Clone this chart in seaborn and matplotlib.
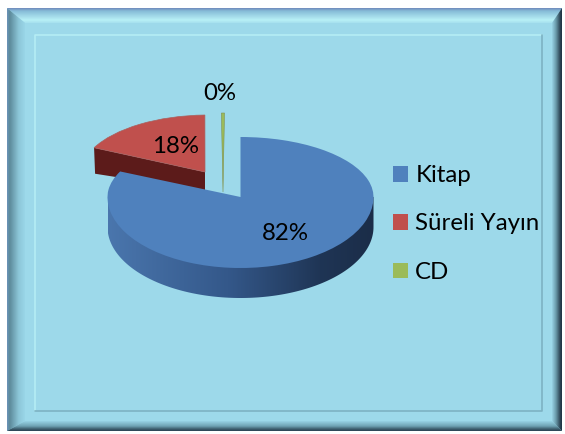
import numpy as np
import matplotlib
matplotlib.use('Agg')
import matplotlib.pyplot as plt
from matplotlib.colors import LinearSegmentedColormap
from matplotlib.patches import PathPatch, Polygon
from matplotlib.path import Path
import seaborn as sns

# Pie values and labels
labels = ['Kitap', 'Süreli Yayın', 'CD']
values = [82, 17.6, 0.4]
pie_colors = ['#4f81bd', '#c0504d', '#9bbb59']

sns.set_theme(style='white')
plt.rcParams['font.family'] = ['Lato', 'DejaVu Sans']

W, H = 565, 434
fig = plt.figure(figsize=(W / 100, H / 100), dpi=100, facecolor='white')
ax = fig.add_axes([0, 0, 1, 1])
wedges, _ = ax.pie(values, colors=pie_colors, startangle=90, counterclock=False)
ax.set_aspect('auto')
ax.set_xlim(0, W)
ax.set_ylim(H, 0)
ax.axis('off')


def gradient(poly, box, stops, horizontal, zorder=1):
    cmap = LinearSegmentedColormap.from_list('g', stops)
    ramp = np.linspace(0, 1, 256)
    ramp = ramp[None, :] if horizontal else ramp[:, None]
    x0, x1, y0, y1 = box
    im = ax.imshow(ramp, cmap=cmap, extent=(x0, x1, y1, y0), aspect='auto', zorder=zorder)
    patch = Polygon(poly, closed=True, transform=ax.transData, fc='none', ec='none')
    ax.add_patch(patch)
    im.set_clip_path(patch)


def place(wedge, cx, cy, rx, back, front, shear=0):
    # stretch the unit wedge from the pie onto the tilted disc
    path = wedge.get_path()
    v = path.vertices.copy()
    y = v[:, 1].copy()
    v[:, 1] = cy - np.where(y > 0, back, front) * y
    v[:, 0] = cx + rx * v[:, 0] + shear * y
    return Path(v, path.codes)


# frame
ax.add_patch(Polygon([(7, 8), (562, 8), (562, 431), (7, 431)], fc='#9dd9ea', ec='none', zorder=0))
gradient([(7, 8), (562, 8), (552, 23), (25, 23)], (7, 562, 8, 23),
         [(0, '#7089bb'), (0.2, '#86bcd8'), (0.8, '#b8f0f6'), (1, '#a5e0ee')], False)
gradient([(7, 8), (25, 23), (25, 421), (7, 431)], (7, 25, 8, 431),
         [(0, '#6c93bb'), (0.15, '#5c8a9a'), (0.65, '#8cc6d8'), (1, '#9ad6e8')], True)
gradient([(7, 431), (562, 431), (552, 421), (25, 421)], (7, 562, 421, 431),
         [(0, '#98d3e5'), (0.5, '#6fa3b4'), (0.8, '#3d5e6e'), (1, '#2a4252')], False)
gradient([(562, 8), (562, 431), (552, 421), (552, 23)], (552, 562, 8, 431),
         [(0, '#98d3e5'), (0.4, '#6a9aaa'), (0.8, '#2f4858'), (1, '#1e3040')], True)
ax.plot([35, 35, 542], [411, 35, 35], color='#b5edf4', lw=1.2, zorder=1)
ax.plot([35, 542, 542], [411, 411, 35], color='#7db2c3', lw=1.2, zorder=1)

# Süreli Yayın slice, pulled out
red_x, red_y, red_rx, red_ry, red_d = 205, 172, 124, 57, 19
red_top = place(wedges[1], red_x, red_y, red_rx, red_ry, red_ry, shear=3)
left = red_top.vertices[np.argmin(red_top.vertices[:, 0])]
ax.add_patch(Polygon([left, (red_x, red_y), (red_x, red_y + red_d), (left[0] + 1, left[1] + 26)],
                     fc='#5c1b1a', ec='none', zorder=3))
ax.add_patch(PathPatch(red_top, fc=pie_colors[1], ec='#a9605e', lw=0.5, zorder=4))

# CD slice
cd_top = place(wedges[2], 223, 192, 124, 79, 79, shear=1.5)
ax.add_patch(PathPatch(cd_top, fc=pie_colors[2], ec='#7f8f50', lw=0.4, zorder=4))

# Kitap slice, with a shaded wall under the front edge
cx, cy, rx, back, front, depth = 240.5, 197, 133, 60, 71, 30
t = np.linspace(0, np.pi, 200)
wall = np.column_stack([cx + rx * np.cos(t), cy + front * np.sin(t) + depth])
wall = np.vstack([[cx + rx, cy], wall, [cx - rx, cy]])
gradient(wall, (cx - rx, cx + rx, cy, cy + front + depth),
         [(0, '#4a76ad'), (0.45, '#34588a'), (0.8, '#1f3555'), (1, '#1b2d48')], True, zorder=5)
ax.add_patch(PathPatch(place(wedges[0], cx, cy, rx, back, front), fc=pie_colors[0], ec='none', zorder=6))

for w in wedges:
    w.remove()

# percent labels
for value, x, y in zip(values, [285, 176, 220], [233.5, 146.5, 94]):
    ax.text(x, y, f'{value:.0f}%', fontsize=17.3, color='black', ha='center', va='center', zorder=8)

handles = [plt.Rectangle((0, 0), 1, 1, fc=c, ec='none') for c in pie_colors]
ax.legend(handles, labels, frameon=False, fontsize=17.3, loc='center left',
          bbox_to_anchor=(393 / W, 1 - 224 / H), bbox_transform=ax.transAxes,
          handlelength=0.63, handleheight=0.63, handletextpad=0.3, labelspacing=1.14,
          borderpad=0, borderaxespad=0, labelcolor='black')

fig.savefig('out.png', dpi=100)
